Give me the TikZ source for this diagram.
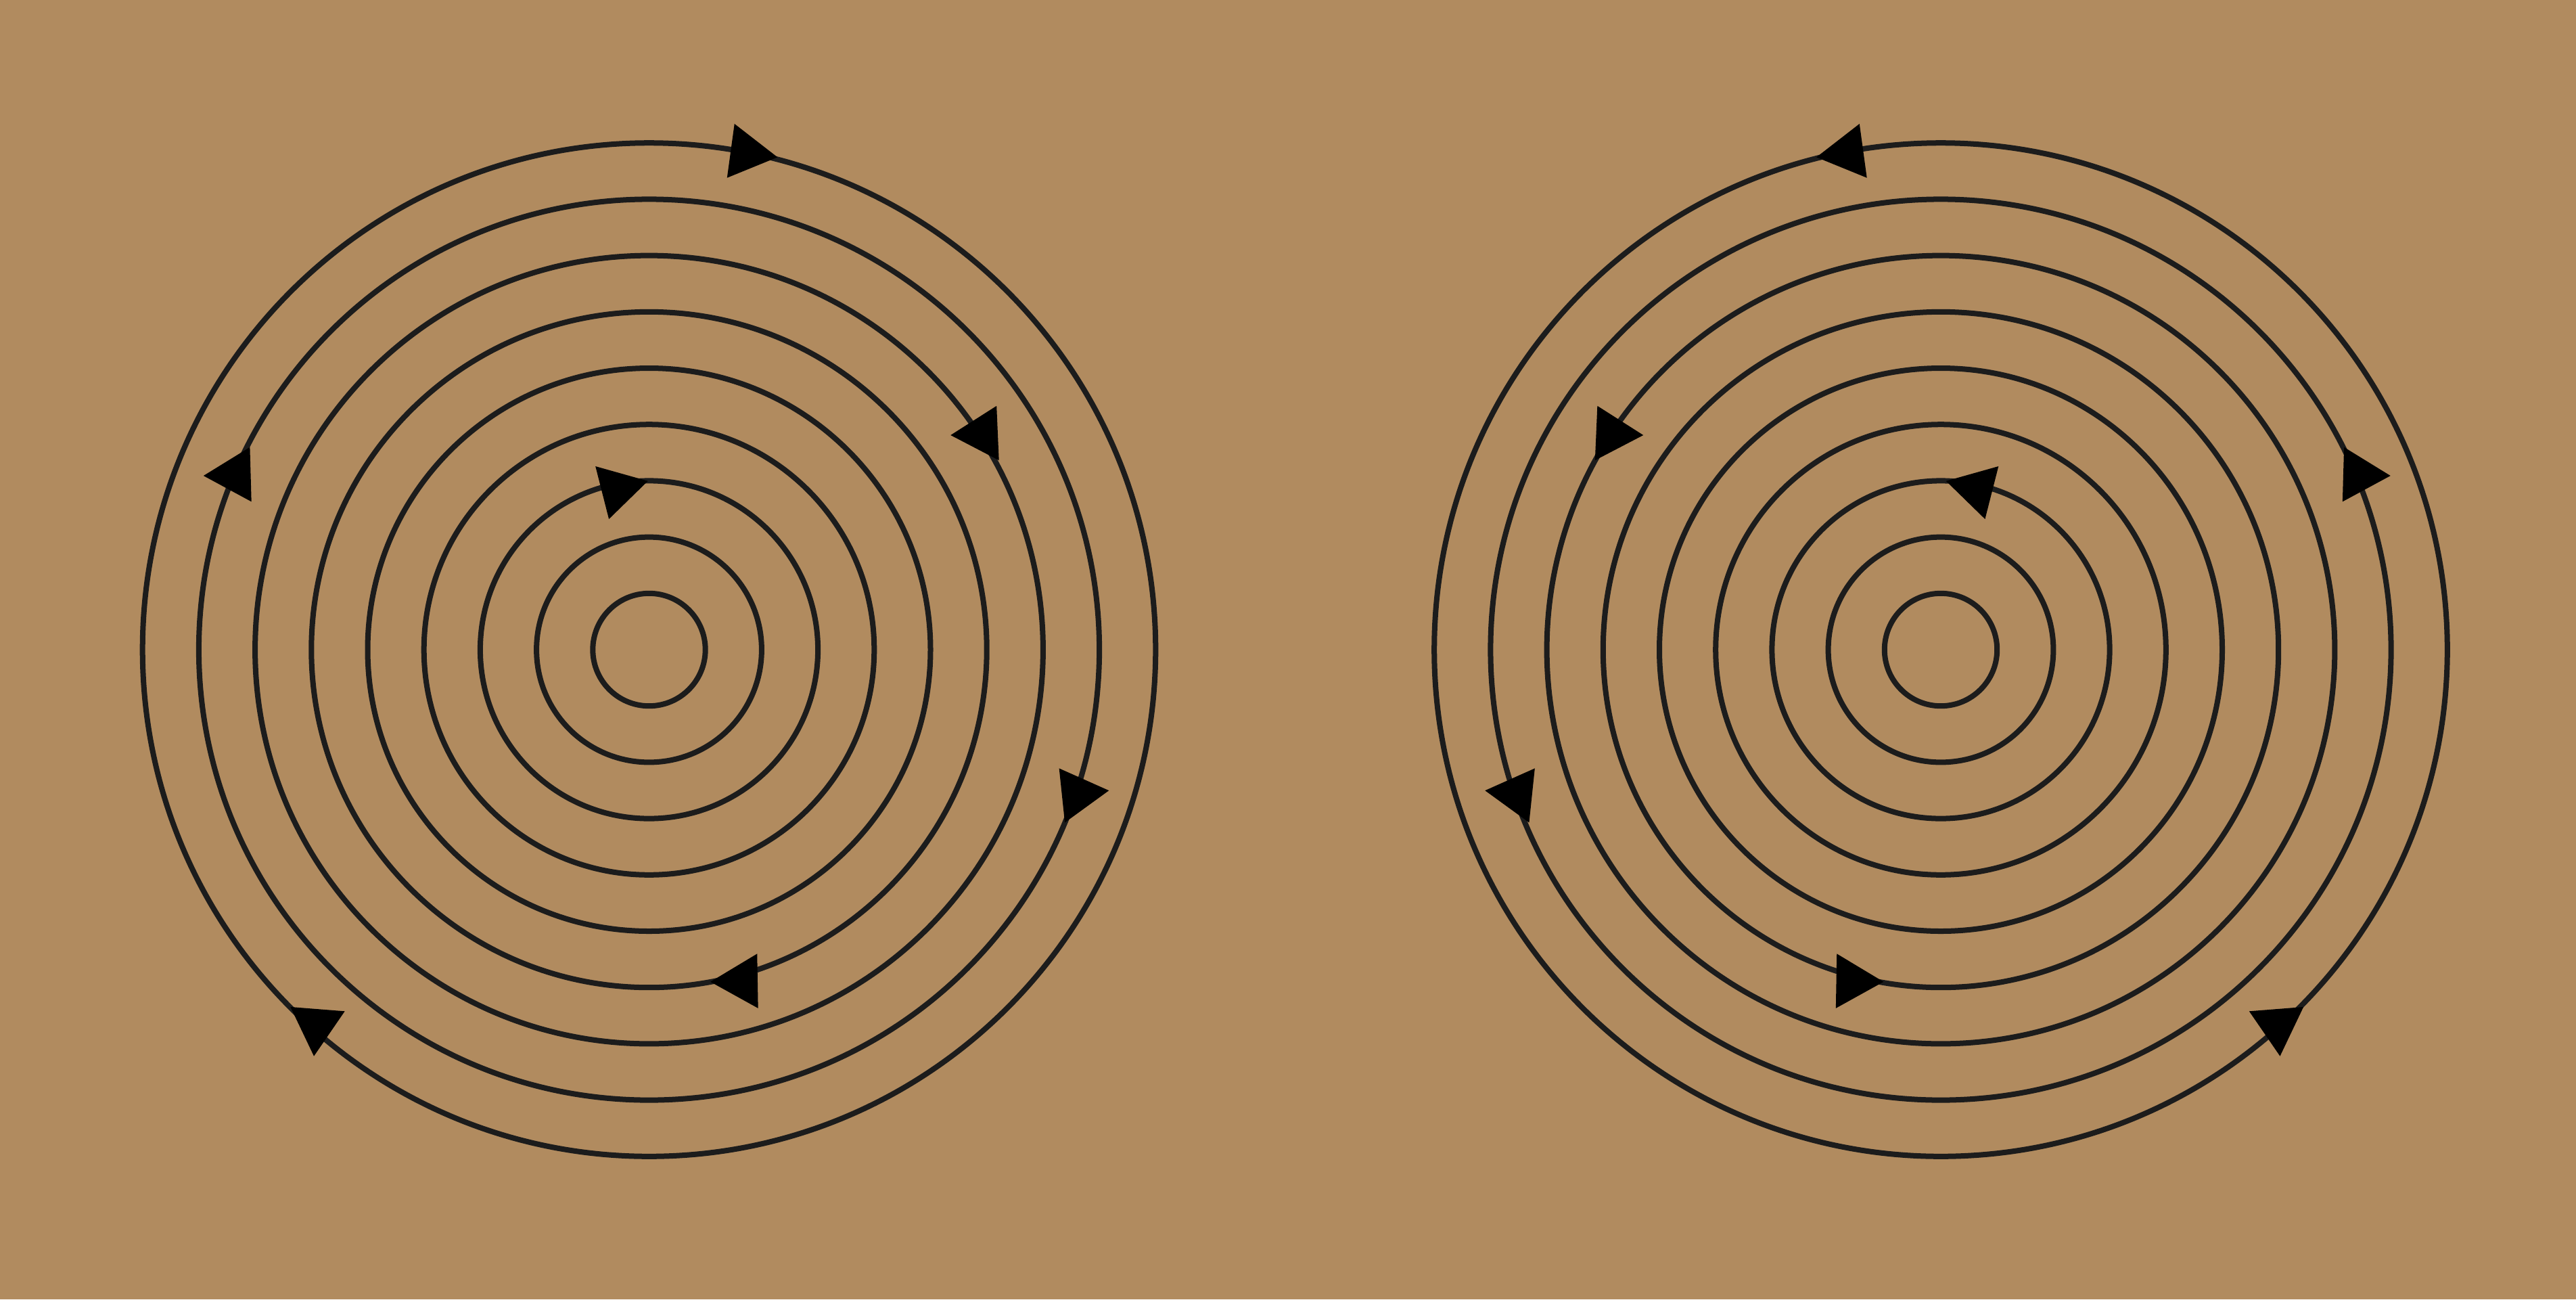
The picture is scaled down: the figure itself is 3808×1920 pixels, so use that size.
\documentclass[tikz,border=0pt]{standalone}
\definecolor{bgtan}{RGB}{177,139,95}
\definecolor{ringcol}{RGB}{28,28,28}
\tikzset{
  ringline/.style={draw=ringcol, line width=0.08cm},
  arrowtri/.style={fill=black}
}
% #3 = tip direction, measured clockwise on screen from +x
\newcommand{\arrtri}[3]{\fill[arrowtri, shift={(#1,#2)}, rotate=-#3] (46.5,0) -- (120:46.5) -- (240:46.5) -- cycle;}
\newcommand{\ringcircles}{%
  \foreach \k in {1,...,9} \draw[ringline] (0,0) circle[radius=83.2*\k];
}
\newcommand{\ringarrows}{%
  \arrtri{143.8}{-734}{7.8}
  \arrtri{492.2}{-319}{177.5}
  \arrtri{-612.2}{-258.3}{178.4}
  \arrtri{-46.8}{-237.7}{-14.3}
  \arrtri{633.5}{213}{-6}
  \arrtri{137.2}{490}{179}
  \arrtri{-491.8}{554.3}{94.5}
}
\begin{document}
\begin{tikzpicture}[x=0.01cm,y=-0.01cm]
\fill[bgtan] (0,0) rectangle (3808,1920);
\useasboundingbox (0,0) rectangle (3808,1920);
\begin{scope}[shift={(959.5,960)}]
  \ringcircles
  \ringarrows
\end{scope}
\begin{scope}[shift={(2869,960)}]
  \ringcircles
\end{scope}
\begin{scope}[shift={(2875,960)},xscale=-1]
  \ringarrows
\end{scope}
\end{tikzpicture}
\end{document}
